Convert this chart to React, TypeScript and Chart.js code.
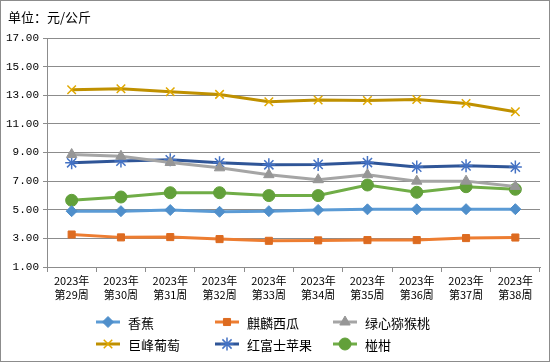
import React, { useEffect, useRef } from "react";
import { Chart, registerables } from "chart.js";
import { drawPoint } from "chart.js/helpers";

Chart.register(...registerables);

const titleText = "单位：元/公斤";
const categories = [
  ["2023年", "第29周"], ["2023年", "第30周"], ["2023年", "第31周"], ["2023年", "第32周"], ["2023年", "第33周"],
  ["2023年", "第34周"], ["2023年", "第35周"], ["2023年", "第36周"], ["2023年", "第37周"], ["2023年", "第38周"],
];
const banana = [4.9, 4.9, 4.98, 4.86, 4.9, 4.99, 5.03, 5.03, 5.04, 5.04];
const watermelon = [3.27, 3.07, 3.09, 2.95, 2.83, 2.86, 2.88, 2.88, 3.02, 3.06];
const kiwi = [8.86, 8.74, 8.3, 7.93, 7.45, 7.1, 7.45, 7.0, 7.0, 6.63];
const grape = [13.38, 13.45, 13.24, 13.06, 12.55, 12.67, 12.63, 12.7, 12.43, 11.85];
const apple = [8.28, 8.4, 8.49, 8.28, 8.14, 8.17, 8.3, 7.98, 8.07, 7.98];
const citrus = [5.66, 5.89, 6.19, 6.19, 5.99, 5.99, 6.73, 6.22, 6.61, 6.43];
const seriesNames = ["香蕉", "麒麟西瓜", "绿心猕猴桃", "巨峰葡萄", "红富士苹果", "椪柑"];
const yMin = 1;
const yMax = 17;
const yStep = 2;

const CJK = '"Noto Sans CJK SC", sans-serif';

export default function App() {
  const ref = useRef<HTMLCanvasElement>(null);
  useEffect(() => {
    document.body.style.margin = "0";
    const canvas = ref.current!;
    const mk = (label: string, data: number[], line: string, pt: string, style: any, r: number, fill: boolean) => ({
      label,
      data,
      borderColor: line,
      backgroundColor: line,
      borderWidth: 3,
      pointStyle: style,
      pointRadius: r,
      pointBorderColor: pt,
      pointBackgroundColor: fill ? pt : "rgba(0,0,0,0)",
      pointBorderWidth: fill ? 1 : 1.5,
      tension: 0,
    });
    const datasets = [
      mk(seriesNames[0], banana, "#5B9BD5", "#4F8FCB", "rectRot", 5.5, true),
      mk(seriesNames[1], watermelon, "#ED7D31", "#DD6B20", "rect", 5, true),
      mk(seriesNames[2], kiwi, "#A5A5A5", "#969696", "triangle", 6, true),
      mk(seriesNames[3], grape, "#BF9000", "#E0A800", "crossRot", 6, false),
      mk(seriesNames[4], apple, "#2F5597", "#4472C4", "star", 6.5, false),
      mk(seriesNames[5], citrus, "#70AD47", "#62A03A", "circle", 6, true),
    ];

    const extras = {
      id: "extras",
      afterDraw(chart: any) {
        const ctx = chart.ctx;
        ctx.save();
        ctx.strokeStyle = "#8C8C8C";
        ctx.lineWidth = 1;
        ctx.strokeRect(0.5, 0.5, 549, 361);
        ctx.fillStyle = "#000";
        ctx.font = "13px " + CJK;
        ctx.textBaseline = "middle";
        ctx.textAlign = "left";
        ctx.fillText(titleText, 8, 17);
        const cols = [96, 215, 333];
        const rows = [322, 344];
        chart.data.datasets.forEach((ds: any, i: number) => {
          const x = cols[i % 3];
          const y = rows[Math.floor(i / 3)];
          ctx.strokeStyle = ds.borderColor;
          ctx.lineWidth = 3;
          ctx.beginPath();
          ctx.moveTo(x, y);
          ctx.lineTo(x + 24, y);
          ctx.stroke();
          ctx.fillStyle = ds.pointBackgroundColor;
          ctx.strokeStyle = ds.pointBorderColor;
          ctx.lineWidth = ds.pointBorderWidth;
          drawPoint(ctx, { pointStyle: ds.pointStyle, radius: ds.pointRadius, borderWidth: ds.pointBorderWidth, rotation: 0 } as any, x + 12, y);
          ctx.fillStyle = "#000";
          ctx.font = "13px " + CJK;
          ctx.textBaseline = "middle";
          ctx.textAlign = "left";
          ctx.fillText(ds.label, x + 32, y + 1);
        });
        ctx.restore();
      },
    };

    const chart = new Chart(canvas, {
      type: "line",
      data: { labels: categories as any, datasets: datasets as any },
      options: {
        animation: false,
        responsive: false,
        maintainAspectRatio: false,
        layout: { padding: { top: 38, right: 10, bottom: 52, left: 0 } },
        plugins: { legend: { display: false }, tooltip: { enabled: false }, title: { display: false } },
        scales: {
          x: {
            offset: true,
            grid: { display: true, offset: true, drawOnChartArea: false, drawTicks: true, tickLength: 5, color: "#8C8C8C" },
            border: { display: true, color: "#8C8C8C" },
            ticks: { color: "#000", font: { size: 11, family: CJK, lineHeight: 1.25 }, maxRotation: 0, autoSkip: false, padding: 2 },
            afterFit: (s: any) => { s.height = 43; },
          },
          y: {
            min: yMin,
            max: yMax,
            grid: { color: "#8C8C8C", drawTicks: true, tickLength: 4 },
            border: { display: true, color: "#8C8C8C" },
            ticks: {
              stepSize: yStep,
              color: "#000",
              font: { size: 11, family: '"Liberation Mono", monospace' },
              padding: 4,
              callback: (v: any) => Number(v).toFixed(2),
            },
            afterFit: (s: any) => { s.width = 47; },
          },
        },
      },
      plugins: [extras],
    });
    return () => chart.destroy();
  }, []);
  return (
    <div style={{ position: "absolute", left: 0, top: 0, width: 550, height: 362, background: "#fff" }}>
      <canvas ref={ref} width={550} height={362} style={{ display: "block" }} />
    </div>
  );
}
